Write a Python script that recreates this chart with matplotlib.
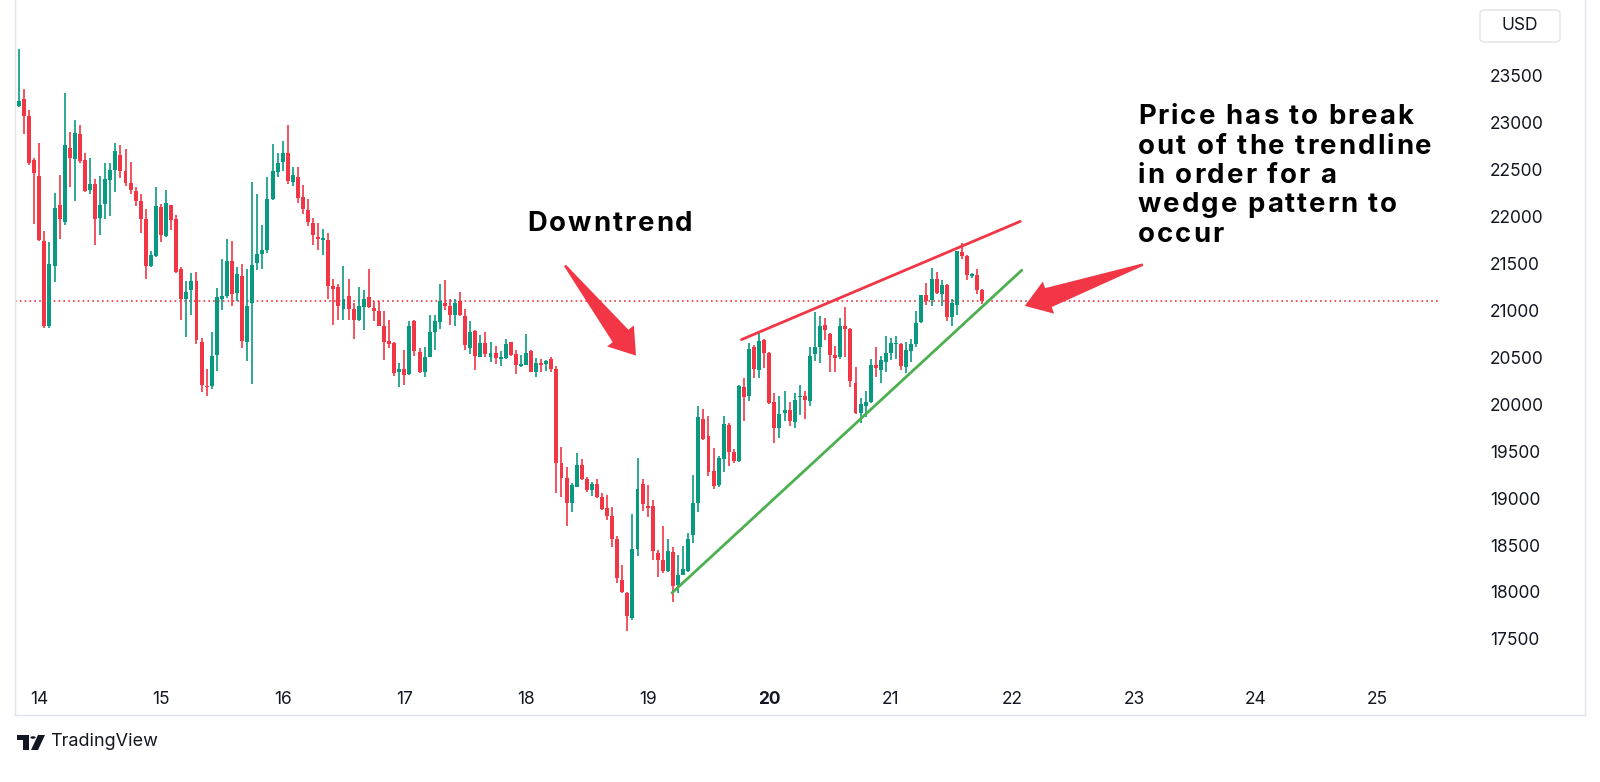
"""
BTC/USD hourly candles (13-21 June) with a rising wedge drawn on top,
laid out like a TradingView screenshot.
"""

import matplotlib
matplotlib.use("Agg")
import matplotlib.pyplot as plt
from matplotlib import font_manager
from matplotlib.ft2font import FT2Font
from matplotlib.lines import Line2D
from matplotlib.patches import Rectangle, Circle, Polygon, FancyBboxPatch
import numpy as np

plt.rcParams["font.family"] = ["Inter", "DejaVu Sans"]

# hourly OHLC, first candle = 13th 20:00
opens = [
    23180, 23250, 23070, 22600, 22430, 21740, 20830, 21470, 22130, 21940,
    22730, 22620, 22880, 22600, 22290, 22350, 21990, 22140, 22390, 22500,
    22660, 22490, 22360, 22270, 22170, 21980, 21480, 21580, 22100, 21790,
    22120, 21980, 21440, 21120, 21220, 21320, 20670, 20200, 20200, 20530,
    21120, 21150, 21530, 21190, 21370, 20670, 21080, 21510, 21600, 21650,
    22190, 22480, 22580, 22680, 22370, 22420, 22210, 22070, 21930, 21780,
    21750, 21750, 21260, 21250, 21020, 21150, 21020, 20900, 21040, 21140,
    21030, 21000, 20840, 20670, 20650, 20340, 20380, 20320, 20890, 20560,
    20340, 20510, 20770, 20880, 21080, 21050, 20950, 21100, 20940, 20600,
    20780, 20510, 20650, 20510, 20550, 20480, 20490, 20660, 20540, 20410,
    20420, 20570, 20350, 20440, 20430, 20480, 20380, 19380, 19210, 18950,
    19120, 19350, 19200, 19090, 19150, 19010, 18900, 18810, 18560, 18130,
    17990, 17720, 18460, 19150, 18920, 18920, 18420, 18340, 18220, 18430,
    18070, 18180, 18220, 18610, 18950, 19840, 19660, 19290, 19140, 19420,
    19780, 19490, 19400, 20190, 20090, 20610, 20370, 20690, 20550, 20020,
    19750, 19910, 19940, 19810, 20080, 20090, 20040, 20540, 20610, 20850,
    20750, 20530, 20500, 20840, 20800, 20230, 19910, 19980, 20030, 20420,
    20370, 20450, 20550, 20640, 20640, 20400, 20570, 20640, 20880, 21170,
    21110, 21340, 21180, 21270, 20930, 21060, 21620, 21580, 21370, 21380,
    21220,
]
highs = [
    23790, 23360, 23140, 22630, 22790, 21850, 21730, 22250, 22450, 23320,
    22900, 23030, 22980, 22680, 22630, 22400, 22430, 22570, 22570, 22790,
    22760, 22720, 22580, 22320, 22240, 22080, 21630, 22320, 22140, 22280,
    22130, 22020, 21460, 21320, 21400, 21410, 20710, 20380, 20770, 21240,
    21550, 21760, 21740, 21460, 21500, 21440, 22370, 22240, 21910, 22420,
    22780, 22680, 22810, 22980, 22530, 22530, 22340, 22190, 21990, 21930,
    21870, 21830, 21340, 21280, 21470, 21340, 21080, 21250, 21220, 21440,
    21100, 21100, 20990, 20900, 20660, 20440, 20580, 20890, 20900, 20600,
    20610, 20950, 20950, 21280, 21330, 21120, 21120, 21200, 21020, 20890,
    20790, 20740, 20770, 20670, 20620, 20570, 20700, 20670, 20580, 20530,
    20750, 20580, 20490, 20480, 20470, 20500, 20410, 19550, 19330, 19160,
    19480, 19420, 19230, 19170, 19200, 19060, 19030, 18910, 18600, 18290,
    18000, 18830, 19430, 19200, 19140, 18980, 18450, 18700, 18560, 18480,
    18390, 18490, 18630, 19250, 19980, 19950, 19880, 19540, 19450, 19880,
    19800, 19520, 20210, 20280, 20650, 20630, 20780, 20700, 20560, 20120,
    20090, 20140, 20030, 20120, 20210, 20140, 20610, 20980, 20940, 20920,
    20760, 20620, 20920, 21040, 20810, 20400, 20070, 20140, 20480, 20610,
    20520, 20730, 20710, 20730, 20650, 20670, 20700, 20990, 21170, 21290,
    21450, 21410, 21330, 21280, 21120, 21630, 21720, 21590, 21400, 21440,
    21230,
]
lows = [
    23170, 22880, 22550, 21920, 21740, 20810, 20810, 21300, 21760, 21910,
    22320, 22170, 22570, 22260, 22240, 21700, 21800, 21980, 22010, 22260,
    22410, 22330, 22240, 22110, 21830, 21340, 21460, 21570, 21730, 21780,
    21860, 21400, 20900, 20720, 20950, 20640, 20130, 20090, 20160, 20360,
    21010, 21130, 21050, 21100, 20600, 20460, 20220, 21430, 21440, 21610,
    22180, 22420, 22490, 22350, 22330, 22150, 22030, 21900, 21700, 21650,
    21590, 21120, 20850, 20900, 20900, 20900, 20700, 20890, 20790, 21030,
    20890, 20830, 20470, 20600, 20300, 20190, 20210, 20310, 20520, 20330,
    20290, 20500, 20580, 20800, 21010, 20850, 20830, 20940, 20580, 20540,
    20370, 20500, 20500, 20450, 20430, 20410, 20480, 20520, 20320, 20400,
    20420, 20340, 20290, 20340, 20360, 20340, 19050, 19010, 18700, 18850,
    19120, 19190, 19070, 19020, 19000, 18870, 18770, 18480, 18100, 17990,
    17580, 17700, 18380, 18860, 18800, 18340, 18160, 18200, 18210, 17890,
    17990, 18180, 18210, 18520, 18850, 19620, 19240, 19100, 19120, 19280,
    19340, 19370, 19390, 19820, 20040, 20280, 20280, 20390, 20000, 19590,
    19640, 19820, 19770, 19750, 19890, 19840, 19980, 20460, 20440, 20690,
    20350, 20350, 20480, 20500, 20180, 19900, 19800, 19870, 20010, 20290,
    20230, 20350, 20470, 20480, 20370, 20330, 20450, 20610, 20870, 21060,
    21050, 21180, 21050, 20890, 20830, 20950, 21550, 21330, 21350, 21180,
    21070,
]
closes = [
    23230, 23070, 22570, 22470, 21750, 20830, 21500, 22090, 21980, 22760,
    22630, 22890, 22590, 22270, 22350, 21980, 22130, 22400, 22500, 22700,
    22490, 22360, 22290, 22170, 21980, 21470, 21590, 22110, 21800, 22150,
    21970, 21410, 21120, 21200, 21310, 20690, 20210, 20180, 20520, 21140,
    21160, 21530, 21180, 21390, 20680, 21050, 21490, 21600, 21640, 22190,
    22490, 22570, 22680, 22380, 22450, 22200, 22080, 21940, 21800, 21760,
    21770, 21260, 21230, 21050, 21120, 21020, 20900, 21050, 21120, 21040,
    21000, 20840, 20670, 20640, 20330, 20380, 20310, 20840, 20570, 20340,
    20510, 20770, 20890, 21100, 21050, 20950, 21080, 20950, 20630, 20770,
    20520, 20650, 20540, 20550, 20490, 20500, 20640, 20530, 20420, 20430,
    20550, 20340, 20440, 20420, 20460, 20380, 19380, 19210, 18950, 19140,
    19350, 19200, 19090, 19150, 19010, 18880, 18810, 18570, 18150, 18000,
    17740, 18460, 19100, 18940, 18900, 18440, 18340, 18220, 18440, 18060,
    18180, 18240, 18570, 18950, 19860, 19630, 19280, 19130, 19430, 19790,
    19490, 19400, 20200, 20080, 20590, 20380, 20670, 20550, 20010, 19750,
    19900, 19940, 19820, 20050, 20090, 20050, 20520, 20610, 20840, 20790,
    20530, 20490, 20840, 20800, 20250, 19910, 20000, 20030, 20420, 20390,
    20470, 20550, 20650, 20650, 20410, 20580, 20640, 20870, 21170, 21100,
    21340, 21190, 21270, 20930, 21080, 21630, 21580, 21380, 21390, 21220,
    21100,
]

last_price = 21100
price_ticks = list(range(17500, 24000, 500))
day_labels = ["14", "15", "16", "17", "18", "19", "20", "21", "22", "23", "24", "25"]
first_midnight = 4          # candle index of the 14th 00:00
hours_per_day = 24

# wedge lines: (candle index, price) end points
upper_line = ([142.5, 197.5], [20690, 21950])
lower_line = ([128.8, 197.8], [17990, 21430])

note_lines = ["Price has to break", "out of the trendline", "in order for a",
              "wedge pattern to", "occur"]

GREEN = "#089981"
RED = "#f23645"
TEXT = "#131722"
BORDER = "#e0e3eb"

W, H = 1600, 782
fig = plt.figure(figsize=(W / 100, H / 100), dpi=100)
fig.patch.set_facecolor("white")


def fx(px):
    return px / W


def fy(py):
    return 1 - py / H


def tracked_text(ax, x, y, lines, size, track, leading):
    # matplotlib has no letter-spacing, so lay the glyphs out one by one
    path = font_manager.findfont(font_manager.FontProperties(family="Inter", weight="bold"))
    font = FT2Font(path)
    font.set_size(size, 72)
    for row, line in enumerate(lines):
        pos = 0.0
        for ch in line:
            g = font.load_char(ord(ch))
            if ch != " ":
                ax.annotate(ch, xy=(x, y), xycoords="data",
                            xytext=(pos, -row * leading),
                            textcoords="offset points", fontsize=size,
                            fontweight="bold", color="black", ha="left",
                            va="baseline", annotation_clip=False, zorder=6)
            pos += g.linearHoriAdvance / 65536 + track


def wedge_arrow(ax, tail, tip, tail_w=1.2, body_w=10, head_w=17, head_len=25):
    # tapered TradingView-style arrow, shaped in pixels, placed in data coords
    to_px = ax.transData
    p0 = to_px.transform(tail)
    p1 = to_px.transform(tip)
    d = p1 - p0
    length = np.hypot(*d)
    u = d / length
    n = np.array([-u[1], u[0]])
    base = p0 + u * (length - head_len)
    pts = [p0 + n * tail_w, base + n * body_w, base + n * head_w, p1,
           base - n * head_w, base - n * body_w, p0 - n * tail_w]
    verts = to_px.inverted().transform(np.array(pts))
    ax.add_patch(Polygon(verts, closed=True, facecolor=RED, edgecolor="none", zorder=5))


ax = fig.add_axes([fx(15), fy(683), fx(1440) - fx(15), fy(0) - fy(683)])
ax.set_facecolor("white")
ax.set_xlim(-0.8, 280.3)
ax.set_ylim(17030, 24310)

o = np.array(opens, dtype=float)
h = np.array(highs, dtype=float)
l = np.array(lows, dtype=float)
c = np.array(closes, dtype=float)
x = np.arange(len(o))
colors = np.where(c >= o, GREEN, RED)

ax.vlines(x, l, h, colors=colors, linewidth=1.2, zorder=2)
body_low = np.minimum(o, c)
body_h = np.maximum(np.abs(c - o), 10)
ax.bar(x, body_h, bottom=body_low, width=0.78, color=colors, linewidth=0, zorder=3)

ax.axhline(last_price, color=RED, linewidth=1.2, linestyle=(0, (1, 1.9)), zorder=1)

ax.plot(*upper_line, color=RED, linewidth=2.0, solid_capstyle="round", zorder=4)
ax.plot(*lower_line, color="#4caf50", linewidth=2.0, solid_capstyle="round", zorder=4)

wedge_arrow(ax, (107.7, 21480), (121.7, 20520))
wedge_arrow(ax, (221.7, 21490), (198.4, 21050))

tracked_text(ax, 100.2, 21846, ["Downtrend"], 19.8, 1.45, 0)
tracked_text(ax, 220.7, 22987, note_lines, 19.8, 1.45, 21.2)

ticks_x = [first_midnight + hours_per_day * k for k in range(len(day_labels))]
ax.set_xticks(ticks_x)
ax.set_xticklabels(day_labels)
for lab in ax.get_xticklabels():
    if lab.get_text() == "20":
        lab.set_fontweight("bold")
ax.tick_params(axis="x", length=0, pad=6, labelsize=12.5, labelcolor=TEXT)

ax.yaxis.tick_right()
ax.set_yticks(price_ticks)
ax.set_yticklabels([str(p) for p in price_ticks])
ax.tick_params(axis="y", length=0, pad=36, labelsize=12.5, labelcolor=TEXT)

for s in ax.spines.values():
    s.set_visible(False)

# frame of the chart widget
fig.add_artist(Line2D([fx(15), fx(1585)], [fy(715), fy(715)], color=BORDER, lw=1))
fig.add_artist(Line2D([fx(15), fx(15)], [fy(0), fy(715)], color=BORDER, lw=1))
fig.add_artist(Line2D([fx(1585), fx(1585)], [fy(0), fy(715)], color=BORDER, lw=1))

# currency button
fig.add_artist(FancyBboxPatch((fx(1480), fy(42)), fx(80), fy(10) - fy(42),
                              boxstyle="round,pad=0,rounding_size=0.004",
                              transform=fig.transFigure, facecolor="white",
                              edgecolor=BORDER, lw=1))
fig.text(fx(1520), fy(26), "USD", ha="center", va="center", fontsize=12.5, color=TEXT)

# TradingView logo mark + wordmark
fig.add_artist(Rectangle((fx(17), fy(740)), fx(12), fy(735) - fy(740),
                         transform=fig.transFigure, color=TEXT, lw=0))
fig.add_artist(Rectangle((fx(23), fy(750)), fx(6), fy(735) - fy(750),
                         transform=fig.transFigure, color=TEXT, lw=0))
fig.add_artist(Circle((fx(33), fy(737.5)), fx(2.6), transform=fig.transFigure,
                      color=TEXT, lw=0))
fig.add_artist(Polygon([(fx(38), fy(735)), (fx(45), fy(735)),
                        (fx(38), fy(750)), (fx(31), fy(750))],
                       closed=True, transform=fig.transFigure, color=TEXT, lw=0))
fig.text(fx(50), fy(742), "TradingView", ha="left", va="center", fontsize=13, color=TEXT)

fig.savefig("out.png", dpi=100, facecolor="white")
